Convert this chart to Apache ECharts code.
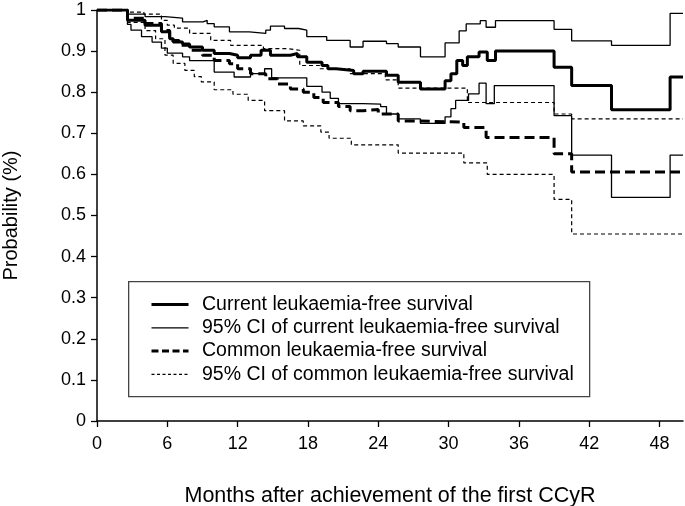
<!DOCTYPE html>
<html>
<head>
<meta charset="utf-8">
<script src="https://cdn.jsdelivr.net/npm/echarts@6/dist/echarts.min.js"></script>
<style>
html,body{margin:0;padding:0;background:#fff;}
#chart{width:685px;height:506px;}
</style>
</head>
<body>
<div id="chart"></div>
<script>
// X tick labels (months)
const xTicks = [0, 6, 12, 18, 24, 30, 36, 42, 48];

// Current leukaemia-free survival (step points: [month, probability])
const currentMonths = [0, 2.6, 4.1, 5.5, 6.2, 6.5, 7.3, 7.9, 9.0, 10.0, 11.3, 12.0, 13.1, 14.0, 14.8, 16.5, 17.1, 17.9, 19.2, 19.7, 20.4, 21.9, 22.7, 24.7, 25.7, 27.6, 29.7, 30.2, 30.7, 31.2, 31.6, 32.6, 33.3, 34.0, 39.0, 40.5, 43.9, 48.9, 50];
const currentValues = [1, 0.975, 0.963, 0.947, 0.93, 0.922, 0.917, 0.91, 0.902, 0.894, 0.89, 0.884, 0.89, 0.902, 0.89, 0.894, 0.886, 0.873, 0.865, 0.857, 0.853, 0.845, 0.851, 0.841, 0.824, 0.808, 0.828, 0.845, 0.877, 0.865, 0.886, 0.898, 0.877, 0.9, 0.861, 0.816, 0.757, 0.837, 0.837];

// 95% CI of current leukaemia-free survival: upper bound
const ciCurUpMonths = [0, 2.6, 4.1, 5.8, 7.3, 9.05, 9.4, 10.0, 11.3, 13.0, 14.4, 14.8, 16.0, 17.2, 17.9, 19.6, 21.6, 22.7, 24.7, 25.7, 27.6, 29.7, 30.9, 31.5, 32.7, 33.2, 34.0, 39.0, 40.5, 43.9, 48.9, 50];
const ciCurUpValues = [1, 0.99, 0.984, 0.98, 0.971, 0.975, 0.967, 0.959, 0.947, 0.943, 0.951, 0.961, 0.955, 0.951, 0.935, 0.926, 0.91, 0.924, 0.918, 0.91, 0.886, 0.92, 0.949, 0.966, 0.974, 0.958, 0.974, 0.953, 0.925, 0.914, 0.992, 0.992];

// 95% CI of current leukaemia-free survival: lower bound
const ciCurLowMonths = [0, 2.6, 2.9, 3.8, 4.7, 5.5, 6.0, 7.3, 7.9, 10.0, 11.7, 13.1, 14.3, 14.9, 17.9, 19.2, 19.9, 20.6, 22.7, 24.2, 24.7, 25.7, 27.6, 29.7, 30.2, 30.6, 31.7, 32.6, 33.2, 33.9, 39.0, 40.5, 43.9, 48.9, 50];
const ciCurLowValues = [1, 0.965, 0.951, 0.935, 0.922, 0.907, 0.895, 0.886, 0.877, 0.849, 0.837, 0.845, 0.857, 0.835, 0.814, 0.8, 0.785, 0.772, 0.771, 0.765, 0.747, 0.735, 0.724, 0.74, 0.76, 0.78, 0.796, 0.822, 0.772, 0.816, 0.743, 0.647, 0.544, 0.647, 0.647];

// Common leukaemia-free survival
const commonMonths = [0, 2.6, 4.1, 5.5, 6.2, 7.0, 7.9, 9.0, 10.0, 11.3, 12.0, 13.1, 14.4, 15.4, 16.5, 17.6, 18.5, 19.3, 20.6, 21.6, 22.7, 24.0, 25.7, 27.6, 31.3, 33.2, 39.0, 40.5, 50];
const commonValues = [1, 0.98, 0.967, 0.95, 0.926, 0.914, 0.902, 0.89, 0.877, 0.869, 0.857, 0.845, 0.833, 0.82, 0.808, 0.8, 0.787, 0.775, 0.765, 0.755, 0.758, 0.747, 0.73, 0.727, 0.714, 0.69, 0.65, 0.606, 0.606];

// 95% CI of common leukaemia-free survival: upper bound
const ciComUpMonths = [0, 2.6, 4.0, 5.5, 6.0, 6.6, 7.9, 9.7, 11.4, 14.2, 16.2, 17.3, 19.0, 21.6, 24.6, 25.7, 31.6, 39.0, 40.5, 50];
const ciComUpValues = [1, 0.995, 0.99, 0.975, 0.963, 0.956, 0.943, 0.926, 0.914, 0.906, 0.902, 0.865, 0.857, 0.845, 0.83, 0.81, 0.775, 0.747, 0.735, 0.735];

// 95% CI of common leukaemia-free survival: lower bound
const ciComLowMonths = [0, 2.6, 4.1, 5.0, 5.8, 6.5, 7.5, 8.3, 8.9, 10.0, 11.6, 12.9, 14.3, 16.0, 17.6, 19.1, 19.8, 21.7, 25.7, 31.3, 33.3, 39.0, 40.5, 50];
const ciComLowValues = [1, 0.97, 0.95, 0.93, 0.89, 0.87, 0.853, 0.838, 0.825, 0.806, 0.795, 0.78, 0.755, 0.73, 0.718, 0.703, 0.688, 0.672, 0.652, 0.628, 0.6, 0.539, 0.455, 0.455];

const seriesNames = [
  'Current leukaemia-free survival',
  '95% CI of current leukaemia-free survival',
  'Common leukaemia-free survival',
  '95% CI of common leukaemia-free survival'
];

function pairs(ms, vs) { return ms.map((m, i) => [m, vs[i]]); }

const FONT = 'Liberation Sans, Arial, sans-serif';
const chart = echarts.init(document.getElementById('chart'), null, {renderer: 'canvas'});

const styles = [
  {width: 3, type: 'solid', z: 5, legendType: 'solid'},
  {width: 1.3, type: 'solid', z: 4, legendType: 'solid'},
  {width: 3, type: [10, 5], z: 5, legendType: [7, 3.5]},
  {width: 1.2, type: [4, 3], z: 3, legendType: [3, 2.5]}
];

function stepSeries(idx, data) {
  const s = styles[idx];
  return {
    name: seriesNames[idx], type: 'line', step: 'end', data: data, symbol: 'none',
    lineStyle: {color: '#000', width: s.width, type: s.type},
    itemStyle: {color: '#000'},
    silent: true, animation: false, z: s.z
  };
}

chart.setOption({
  animation: false,
  backgroundColor: '#fff',
  grid: {left: 97, right: 2, top: 10, bottom: 85, containLabel: false, outerBoundsMode: 'none'},
  graphic: [{
    type: 'rect', left: 128, top: 281, z: 0,
    shape: {width: 461, height: 115},
    style: {fill: '#fff', stroke: '#444', lineWidth: 1.3}
  }],
  legend: {
    orient: 'vertical', left: 145, top: 289.5, itemWidth: 37, itemHeight: 14, itemGap: 3.3,
    data: seriesNames.map((n, i) => ({
      name: n,
      itemStyle: {opacity: 0},
      lineStyle: {color: '#000', width: styles[i].width, type: styles[i].legendType, opacity: 1}
    })),
    textStyle: {fontFamily: FONT, fontSize: 19.5, color: '#000', padding: [0, 0, 0, 8.5]},
    selectedMode: false
  },
  xAxis: {
    type: 'value', min: 0, max: 50,
    name: 'Months after achievement of the first CCyR',
    nameLocation: 'middle', nameGap: 64,
    nameTextStyle: {fontFamily: FONT, fontSize: 21.5, color: '#000'},
    axisLine: {show: true, lineStyle: {color: '#000', width: 1.5}},
    axisTick: {show: true, inside: false, length: 6, lineStyle: {color: '#000', width: 1.3}, customValues: xTicks},
    axisLabel: {fontFamily: FONT, fontSize: 18, color: '#000', margin: 14, customValues: xTicks},
    splitLine: {show: false}
  },
  yAxis: {
    type: 'value', min: 0, max: 1, interval: 0.1,
    name: 'Probability (%)', nameLocation: 'middle', nameGap: 76, nameRotate: 90,
    nameTextStyle: {fontFamily: FONT, fontSize: 20, color: '#000'},
    axisLine: {show: true, lineStyle: {color: '#000', width: 1.5}},
    axisTick: {show: true, inside: false, length: 6, lineStyle: {color: '#000', width: 1.3}},
    axisLabel: {fontFamily: FONT, fontSize: 18, color: '#000', margin: 11},
    splitLine: {show: false}
  },
  series: [
    stepSeries(0, pairs(currentMonths, currentValues)),
    stepSeries(1, pairs(ciCurUpMonths, ciCurUpValues)),
    stepSeries(2, pairs(commonMonths, commonValues)),
    stepSeries(3, pairs(ciComUpMonths, ciComUpValues)),
    stepSeries(1, pairs(ciCurLowMonths, ciCurLowValues)),
    stepSeries(3, pairs(ciComLowMonths, ciComLowValues))
  ]
});
</script>
</body>
</html>
